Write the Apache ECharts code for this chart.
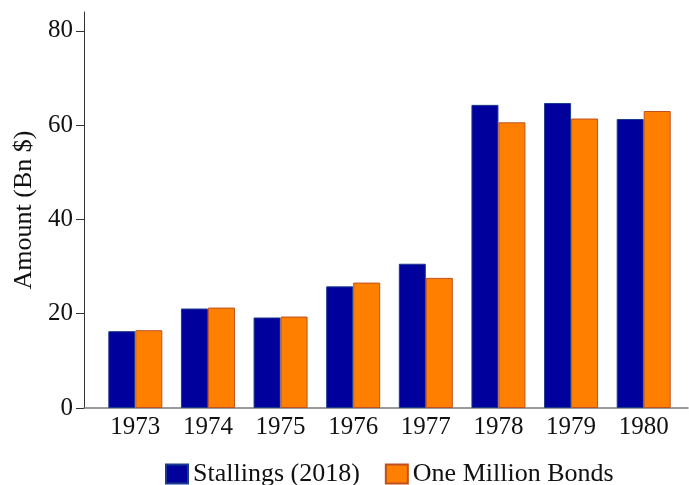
<!DOCTYPE html>
<html>
<head>
<meta charset="utf-8">
<script src="https://cdn.jsdelivr.net/npm/echarts@6/dist/echarts.min.js"></script>
<style>html,body{margin:0;padding:0;background:#fff}#c{width:689px;height:485px}</style>
</head>
<body>
<div id="c"></div>
<script>
const years = ['1973','1974','1975','1976','1977','1978','1979','1980'];
const stallings = [16.3, 21.1, 19.2, 25.8, 30.6, 64.3, 64.7, 61.3];
const millionBonds = [16.5, 21.3, 19.4, 26.6, 27.6, 60.6, 61.4, 63.0];
const yTicks = [0, 20, 40, 60, 80];
const yMax = 84;

const FONT = '"Liberation Serif", "Times New Roman", serif';
const chart = echarts.init(document.getElementById('c'), null, {renderer: 'canvas'});
chart.setOption({
  animation: false,
  backgroundColor: '#ffffff',
  grid: [
    {left: 84, right: 1, top: 12, bottom: 77, outerBoundsMode: 'none'},
    {left: 99, right: 9, top: 12, bottom: 77, outerBoundsMode: 'none'}
  ],
  xAxis: [
    {gridIndex: 0, type: 'value', min: 0, max: 1,
     axisLine: {show: true, onZero: false, lineStyle: {color: '#7a7a7a', width: 1.5}},
     axisTick: {show: false}, axisLabel: {show: false}, splitLine: {show: false}},
    {gridIndex: 1, type: 'category', data: years,
     axisLine: {show: false}, axisTick: {show: false}, splitLine: {show: false},
     axisLabel: {fontFamily: FONT, fontSize: 25, color: '#111', margin: 7}}
  ],
  yAxis: [
    {gridIndex: 0, type: 'value', min: 0, max: yMax,
     axisLine: {show: true, lineStyle: {color: '#333', width: 1}},
     axisTick: {show: true, length: 8, customValues: yTicks, lineStyle: {color: '#333'}},
     axisLabel: {customValues: yTicks, fontFamily: FONT, fontSize: 25, color: '#111', margin: 11},
     splitLine: {show: false},
     name: 'Amount (Bn $)', nameLocation: 'middle', nameGap: 46,
     nameTextStyle: {fontFamily: FONT, fontSize: 26, color: '#111'}},
    {gridIndex: 1, type: 'value', min: 0, max: yMax, show: false, splitLine: {show: false}}
  ],
  legend: {
    left: 160, top: 456, itemWidth: 22, itemHeight: 19, itemGap: 25,
    textStyle: {fontFamily: FONT, fontSize: 26, color: '#111', padding: [0,0,0,0]},
    icon: 'rect'
  },
  series: [
    {name: 'Stallings (2018)', type: 'bar', xAxisIndex: 1, yAxisIndex: 1, data: stallings,
     barWidth: 27, barGap: '0%',
     itemStyle: {color: '#00009c', borderColor: '#1c3a8c', borderWidth: 1}},
    {name: 'One Million Bonds', type: 'bar', xAxisIndex: 1, yAxisIndex: 1, data: millionBonds,
     barWidth: 27, barGap: '0%',
     itemStyle: {color: '#ff8000', borderColor: '#c0501e', borderWidth: 1}}
  ]
});
</script>
</body>
</html>
